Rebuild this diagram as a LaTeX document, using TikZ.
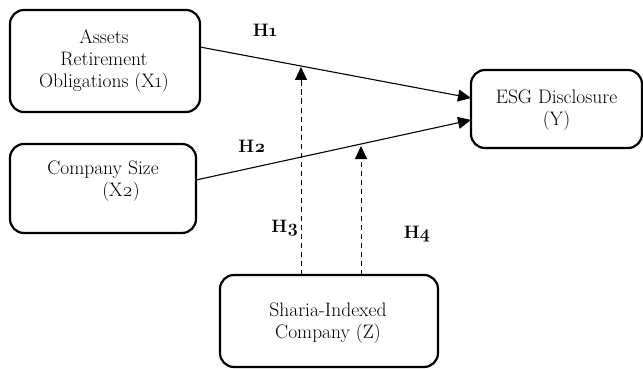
\documentclass[tikz,border=0pt]{standalone}
\usepackage{fontspec}
\setmainfont{Latin Modern Roman}
\usetikzlibrary{arrows.meta,calc}
\tikzset{
  vbox/.style={draw, line width=2.2pt, rounded corners=14pt, inner sep=0pt},
  vtext/.style={font=\fontsize{19.5}{22}\selectfont, align=center, inner sep=0pt},
  hlab/.style={font=\fontsize{18}{20}\selectfont\bfseries, inner sep=0pt},
  path/.style={line width=1.1pt, -{Triangle[length=13pt,width=12pt]}},
  modpath/.style={line width=0.9pt, dash pattern=on 5.5pt off 3.5pt, -{Triangle[length=13pt,width=12pt]}}
}
\begin{document}
\begin{tikzpicture}[x=1pt,y=-1pt]
\useasboundingbox (0,0) rectangle (643,369);
\node[vbox, minimum width=190pt, minimum height=102pt] (X1) at (105,61) {};
\node[vtext] (X1t) at (104,61) {Assets\\Retirement\\Obligations (X\oldstylenums{1})};
\node[vbox, minimum width=186pt, minimum height=89pt] (X2) at (103,188.5) {};
\node[vtext] (X2t) at (103,181) {Company Size\\\hspace*{36pt}(X\oldstylenums{2})};
\node[vbox, minimum width=171pt, minimum height=78pt] (Y) at (556.5,109) {};
\node[vtext] (Yt) at (556.5,110) {ESG Disclosure\\(Y)};
\node[vbox, minimum width=218pt, minimum height=92pt] (Z) at (329,321) {};
\node[vtext] (Zt) at (328,323) {Sharia-Indexed\\Company (Z)};
\coordinate (s1) at (200,47);
\coordinate (e1) at (471,98);
\coordinate (s2) at (196,180);
\coordinate (e2) at (471,120);
\coordinate (z1) at (301,275);
\coordinate (m1) at (301,67);
\coordinate (z2) at (361,275);
\coordinate (m2) at (361,146);
\draw[path] (s1) -- (e1);
\draw[path] (s2) -- (e2);
\draw[modpath] (z1) -- (m1);
\draw[modpath] (z2) -- (m2);
\node[hlab] (H1) at (265,30) {H\oldstylenums{1}};
\node[hlab] (H2) at (252,146) {H\oldstylenums{2}};
\node[hlab] (H3) at (285,228) {H\oldstylenums{3}};
\node[hlab] (H4) at (417,234) {H\oldstylenums{4}};
\end{tikzpicture}
\end{document}
